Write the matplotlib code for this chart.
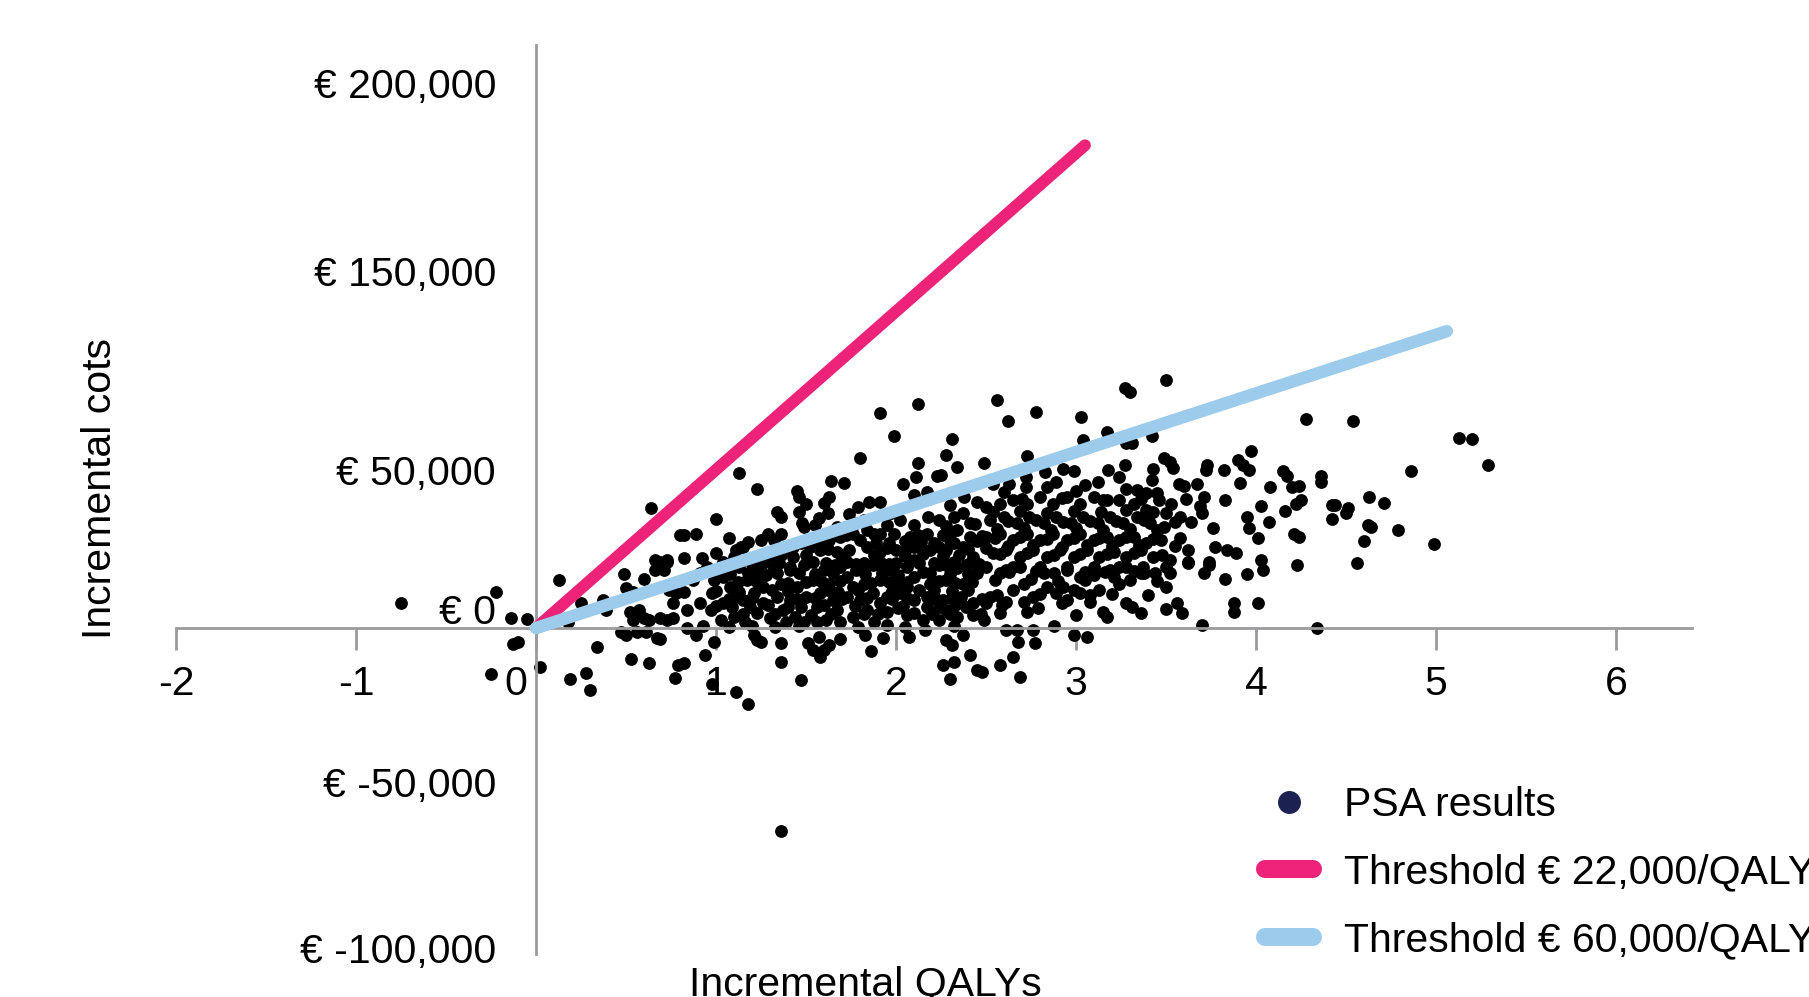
import matplotlib
matplotlib.use("Agg")
import matplotlib.pyplot as plt
import matplotlib.transforms as mtransforms
from matplotlib.lines import Line2D

plt.rcParams["font.family"] = ["Liberation Sans", "DejaVu Sans"]

# ── Data: PSA iterations (incremental QALYs, incremental costs in k€) ─────────
near_origin = [
    (0.64, 35.2), (0.80, 27.3), (0.66, 20.0), (0.73, 20.0), (-0.75, 7.5), (-0.22, 10.5),
    (-0.14, 2.9), (-0.05, 2.6), (-0.13, -4.7), (-0.10, -4.0), (-0.25, -13.5), (0.02, -11.6),
    (0.13, 14.1), (0.19, -15.1), (0.28, -13.1), (0.30, -18.2), (0.34, -5.7), (0.25, 7.5),
    (0.39, 5.3), (0.37, 8.2), (0.18, 1.9), (0.49, 15.9), (0.60, 14.4), (0.50, 11.7),
    (0.54, 10.7), (0.66, 17.1), (0.71, 17.1), (0.69, 19.5), (0.73, 19.5), (0.52, 4.8),
    (0.57, 5.3), (0.54, 2.4), (0.60, 2.9), (0.63, 2.4), (0.69, 2.9), (0.73, 2.4),
    (0.76, 2.9), (0.47, -1.1), (0.50, -2.1), (0.56, -1.1), (0.61, -1.1), (0.67, -3.0),
    (0.69, -3.3), (0.53, -9.2), (0.63, -10.2), (0.77, -14.8), (0.79, -10.9), (0.74, 11.2),
    (0.78, 10.2), (0.76, 7.3),
]
below_axis = [
    (0.84, -0.1), (0.89, -2.1), (0.99, -4.0), (0.94, -7.9), (0.82, -10.4), (0.98, -16.5),
    (1.11, -18.7), (1.18, -22.3), (1.23, -3.5), (1.25, -4.0), (1.21, -2.1), (1.36, -4.5),
    (1.36, -9.9), (1.47, -15.3), (1.51, -4.5), (1.54, -6.5), (1.58, -8.4), (1.60, -6.5),
    (1.63, -5.0), (1.57, -2.7), (1.69, -3.2), (1.83, -2.1), (1.86, -6.7), (1.93, -3.0),
    (2.07, -2.5), (2.16, -0.6), (1.88, 1.9), (2.28, -3.5), (2.31, -5.0), (2.41, -7.9),
    (2.37, -2.1), (2.26, -10.9), (2.32, -9.9), (2.30, -15.0), (2.45, -12.3), (1.36, -59.6),
]
core_low = [
    (1.03, 2.4), (1.10, 3.3), (1.16, 1.9), (1.23, 4.3), (1.30, 2.9), (1.39, 1.9),
    (1.44, 3.3), (1.49, 1.9), (1.56, 1.9), (1.61, 2.4), (1.69, 1.9), (1.76, 3.3),
    (1.95, 4.8), (2.01, 5.8), (2.10, 4.3), (2.15, 2.4), (2.24, 2.4), (2.34, 3.3),
    (2.43, 3.8), (0.84, 5.3), (0.91, 7.3), (0.98, 10.2), (0.82, 10.7), (0.87, 14.1),
    (1.04, 7.3), (1.15, 8.2), (1.26, 7.3), (1.34, 9.2), (1.41, 8.2), (1.50, 9.2),
    (1.58, 10.2), (1.65, 8.2), (1.73, 9.2), (1.80, 8.2), (1.87, 10.2), (1.95, 9.2),
    (2.02, 10.2), (2.10, 8.2), (2.17, 9.2), (2.26, 8.2), (2.36, 9.2), (2.43, 7.3),
    (1.08, 12.2), (1.17, 14.1), (1.26, 12.2), (1.36, 13.1), (1.45, 12.2), (1.54, 14.1),
    (1.63, 13.1), (1.73, 15.1), (1.82, 13.1), (1.91, 14.1), (2.00, 13.1), (2.10, 15.1),
    (2.19, 13.1), (2.28, 14.1), (2.37, 13.1), (2.45, 16.1), (1.02, 17.1), (1.13, 18.0),
    (1.23, 16.6), (1.32, 18.0), (1.41, 17.1), (1.50, 19.0), (1.60, 17.1), (1.69, 18.0),
    (1.78, 17.1), (1.87, 18.5), (1.97, 17.1), (2.06, 18.0), (2.15, 16.6), (2.24, 18.5),
    (2.34, 17.6), (2.41, 19.0), (0.91, 16.1), (0.99, 14.1), (1.11, 9.2), (1.19, 6.3),
    (1.37, 5.3), (1.47, 6.3), (1.67, 5.3), (1.84, 5.3), (1.91, 7.3), (2.17, 6.3),
    (2.28, 5.3), (2.39, 6.3), (1.34, 16.1), (1.76, 12.2), (2.06, 12.2), (2.21, 11.2),
    (1.56, 6.3), (1.21, 10.2), (1.04, 15.1), (0.97, 5.3),
]
upper_left = [
    (2.12, 66.0), (1.91, 63.3), (1.99, 56.4), (2.31, 55.5), (1.80, 49.9), (2.12, 48.6),
    (2.28, 50.9), (2.34, 47.4), (1.13, 45.5), (1.23, 40.9), (1.64, 43.3), (1.71, 42.8),
    (2.04, 42.3), (2.11, 44.3), (2.23, 44.7), (2.25, 45.0), (1.45, 40.4), (1.46, 38.4),
    (1.63, 38.6), (1.60, 36.8), (1.50, 36.5), (1.46, 34.2), (1.85, 37.0), (1.91, 37.0),
    (1.79, 35.7), (1.34, 34.2), (1.36, 32.7), (1.00, 32.0), (1.62, 33.9), (1.57, 32.5),
    (1.74, 33.5), (1.48, 31.0), (1.49, 29.8), (2.10, 39.1), (2.17, 40.1), (2.30, 36.2),
    (2.38, 38.6), (2.45, 37.1), (0.82, 27.3), (0.89, 27.6), (1.07, 26.6), (1.25, 25.9),
    (1.29, 27.6), (1.36, 27.8), (1.14, 23.9), (1.11, 23.0), (0.92, 20.5), (0.82, 20.5),
]
core_left = [
    (1.97, 33.7), (2.02, 31.7), (2.10, 30.3), (2.18, 32.7), (2.24, 31.7), (2.32, 32.7),
    (2.37, 33.7), (2.41, 30.8), (1.99, 27.8), (2.08, 26.8), (2.17, 27.8), (2.26, 27.3),
    (2.34, 28.8), (2.41, 26.8), (1.63, 25.9), (1.69, 26.8), (1.76, 27.8), (1.84, 28.8),
    (1.91, 27.8), (1.58, 23.0), (1.67, 22.4), (1.74, 23.0), (1.84, 23.9), (1.91, 22.4),
    (2.00, 23.0), (2.10, 23.9), (2.19, 23.0), (2.28, 23.0), (2.37, 23.9), (2.43, 21.0),
    (1.54, 19.5), (1.61, 19.0), (1.73, 19.5), (1.82, 19.0), (1.91, 19.5), (2.00, 19.0),
    (2.10, 20.0), (2.21, 19.0), (2.32, 19.5), (2.39, 18.5), (1.36, 21.5), (1.43, 21.0),
    (1.26, 19.0), (1.15, 23.9), (1.54, 24.9), (1.47, 24.9), (1.82, 31.7), (1.67, 29.8),
    (1.89, 24.9), (2.21, 24.9), (2.32, 24.9), (1.23, 21.0), (1.04, 19.5), (0.95, 18.0),
    (1.41, 18.0), (1.49, 18.5), (1.32, 17.5), (1.10, 21.0), (1.43, 23.9), (1.00, 22.0),
]
upper_right = [
    (3.50, 73.1), (3.27, 70.5), (3.30, 69.5), (2.56, 67.0), (2.78, 63.4), (2.62, 60.9),
    (3.03, 62.1), (3.17, 57.7), (3.04, 55.3), (3.42, 56.4), (3.28, 54.3), (3.31, 54.3),
    (2.73, 50.6), (2.49, 48.6), (3.97, 52.1), (3.49, 49.9), (3.52, 48.9), (3.54, 47.2),
    (3.27, 48.1), (2.93, 46.9), (2.99, 46.1), (3.18, 46.6), (3.43, 46.9), (3.42, 43.5),
    (3.73, 47.9), (3.72, 46.5), (3.82, 46.5), (3.90, 49.4), (3.93, 47.9), (3.96, 46.6),
    (2.83, 46.0), (2.72, 44.5), (3.57, 42.5), (3.60, 41.7), (3.67, 42.3), (3.91, 42.8),
    (4.08, 41.5), (3.24, 44.5), (3.05, 42.0), (2.89, 43.0), (2.72, 41.6), (2.63, 42.5),
    (2.54, 42.5), (4.03, 36.0), (4.07, 31.3), (3.83, 37.6), (3.71, 38.6), (3.61, 38.1),
    (3.53, 36.5), (3.69, 35.9), (3.70, 33.7), (3.95, 32.7), (3.76, 29.3), (3.96, 29.3),
    (4.01, 26.4), (3.77, 23.9), (3.84, 23.0), (3.89, 22.1), (3.62, 23.0), (3.62, 19.5),
    (3.74, 19.5), (4.03, 20.0), (3.58, 32.7), (3.64, 31.3), (3.50, 33.7), (3.46, 37.6),
    (3.34, 40.6), (3.28, 41.0), (3.39, 39.6), (2.84, 41.6), (3.12, 43.0),
]
core_right = [
    (2.50, 35.7), (2.58, 36.6), (2.65, 37.6), (2.73, 36.6), (2.80, 38.6), (2.87, 36.6),
    (2.95, 38.6), (3.02, 36.6), (3.10, 38.6), (3.17, 37.6), (3.24, 37.6), (3.32, 36.6),
    (3.39, 34.7), (2.52, 31.7), (2.60, 32.7), (2.67, 30.8), (2.74, 32.7), (2.82, 30.8),
    (2.89, 32.7), (2.97, 30.8), (3.04, 32.7), (3.12, 30.8), (3.19, 32.7), (3.26, 30.8),
    (3.34, 32.7), (3.41, 30.8), (3.49, 29.8), (2.50, 26.8), (2.58, 27.8), (2.65, 25.9),
    (2.73, 27.8), (2.80, 25.9), (2.87, 27.8), (2.95, 25.9), (3.02, 27.8), (3.10, 25.9),
    (3.17, 26.8), (3.24, 25.9), (3.32, 26.8), (3.39, 24.9), (3.47, 25.9), (2.54, 22.0),
    (2.61, 23.0), (2.69, 21.0), (2.76, 23.0), (2.84, 21.0), (2.91, 23.0), (2.99, 21.0),
    (3.06, 23.0), (3.13, 21.0), (3.21, 22.4), (3.28, 21.0), (3.36, 23.0), (3.43, 21.0),
    (3.52, 20.0), (2.50, 18.0), (2.65, 18.0), (2.80, 18.0), (2.95, 18.0), (3.10, 18.0),
    (3.24, 18.0), (3.37, 18.0),
]
# densest part of the cloud, where single dots merge
core_fill = [
    (1.55, 30.2), (1.78, 30.9), (1.95, 30.4), (2.28, 30.0), (2.44, 30.6),
    (1.18, 25.2), (1.32, 25.8), (1.60, 25.4), (1.80, 25.9), (1.96, 25.1), (2.05, 25.7),
    (2.14, 25.3), (2.30, 26.0), (2.45, 25.5),
    (1.30, 21.1), (1.50, 21.6), (1.70, 21.0), (1.88, 21.5), (2.05, 21.2), (2.15, 21.7),
    (2.26, 21.1), (2.35, 21.5),
    (1.08, 15.8), (1.18, 16.2), (1.28, 15.7), (1.46, 16.3), (1.55, 15.9), (1.65, 16.1),
    (1.83, 15.8), (1.92, 16.3), (2.01, 15.7), (2.19, 16.2), (2.30, 15.9), (2.40, 16.0),
    (1.00, 11.0), (1.13, 10.7), (1.31, 11.3), (1.40, 10.8), (1.62, 11.2), (1.68, 10.6),
    (1.79, 11.1), (1.98, 10.8), (2.13, 11.3), (2.31, 10.9), (2.40, 11.2),
    (1.00, 6.5), (1.09, 6.2), (1.29, 6.7), (1.40, 6.3), (1.60, 6.8), (1.77, 6.4),
    (2.04, 6.6), (2.24, 6.2), (2.33, 6.7),
    (0.93, 0.5), (1.07, 0.2), (1.20, 0.7), (1.33, 0.3), (1.46, 0.6), (1.79, 0.4),
    (1.95, 0.8), (2.05, 0.3), (2.32, 0.6),
    (2.54, 34.0), (2.69, 34.5), (2.84, 33.9), (2.99, 34.4), (3.14, 34.1), (3.28, 34.6),
    (3.43, 34.0),
    (2.56, 29.0), (2.71, 29.4), (2.86, 28.8), (3.00, 29.3), (3.15, 28.9), (3.30, 29.2),
    (3.45, 28.7),
    (2.62, 24.0), (2.76, 24.4), (2.92, 23.8), (3.06, 24.3), (3.20, 24.1), (3.35, 24.5),
    (3.55, 24.0),
    (2.55, 14.0), (2.75, 14.4), (2.90, 13.8), (3.05, 14.2), (3.30, 14.1), (3.45, 13.9),
    (2.60, 40.0), (3.00, 40.3), (3.45, 39.8),
]
core_fill_2 = [
    (1.72, 27.3), (1.88, 27.7), (2.12, 27.4), (2.30, 27.6), (2.48, 27.2),
    (1.40, 23.4), (1.52, 23.7), (1.62, 23.3), (1.95, 23.6), (2.06, 23.4), (2.24, 23.8),
    (2.40, 23.3), (2.50, 23.6),
    (1.20, 18.7), (1.35, 19.0), (1.66, 18.6), (1.78, 18.9), (1.96, 18.7), (2.13, 19.0),
    (2.28, 18.6), (2.46, 18.9),
    (1.12, 13.4), (1.22, 13.7), (1.40, 13.3), (1.50, 13.6), (1.59, 13.4), (1.69, 13.7),
    (1.86, 13.3), (1.96, 13.6), (2.06, 13.4), (2.24, 13.7), (2.33, 13.3), (2.42, 13.6),
    (1.07, 8.6), (1.20, 8.9), (1.45, 8.5), (1.55, 8.8), (1.70, 8.6), (1.84, 8.9),
    (1.98, 8.5), (2.06, 8.8), (2.22, 8.6), (2.31, 8.9), (2.48, 8.5),
    (1.15, 4.0), (1.33, 4.2), (1.53, 3.9), (1.64, 4.1), (1.82, 4.0), (1.90, 4.2),
    (2.06, 3.9), (2.20, 4.1), (2.30, 4.0), (2.47, 4.2),
    (2.70, 38.0), (2.92, 38.3), (3.15, 37.8), (3.36, 38.1),
    (2.62, 31.5), (2.78, 31.8), (2.93, 31.3), (3.08, 31.6), (3.22, 31.4), (3.38, 31.7),
    (3.55, 31.3),
    (2.55, 26.5), (2.69, 26.8), (2.84, 26.3), (2.99, 26.6), (3.13, 26.4), (3.28, 26.7),
    (3.43, 26.3), (3.58, 26.6),
    (2.58, 21.8), (2.73, 22.1), (2.88, 21.6), (3.02, 21.9), (3.17, 21.7), (3.32, 22.0),
    (3.48, 21.6),
    (2.63, 16.5), (2.78, 16.8), (2.88, 16.3), (3.05, 16.6), (3.16, 16.4), (3.32, 16.7),
    (3.44, 16.3),
    (2.56, 9.8), (2.80, 10.1), (3.08, 9.7), (3.20, 10.0), (3.40, 9.8),
]
far_right = [
    (4.28, 61.6), (4.54, 60.9), (5.13, 55.9), (5.20, 55.6), (5.29, 48.1), (4.86, 46.2),
    (4.15, 46.2), (4.17, 44.7), (4.20, 41.6), (4.24, 41.7), (4.36, 44.7), (4.36, 43.0),
    (4.25, 37.6), (4.22, 36.6), (4.16, 34.5), (4.42, 36.2), (4.44, 36.2), (4.51, 35.4),
    (4.50, 33.9), (4.42, 32.2), (4.63, 38.4), (4.71, 36.9), (4.62, 30.3), (4.64, 29.6),
    (4.79, 28.8), (4.21, 27.6), (4.24, 26.7), (4.60, 25.7), (4.99, 24.7), (4.23, 18.5),
    (4.56, 19.0), (4.34, -0.1),
]
lower_right = [
    (2.49, 2.4), (2.50, 7.3), (2.61, 7.7), (2.59, 6.8), (2.73, 4.8), (2.79, 5.8),
    (2.71, 7.7), (2.58, 4.3), (2.61, -0.6), (2.67, -0.6), (2.76, -0.6), (2.88, 0.7),
    (2.99, -2.1), (3.06, -2.5), (2.68, -4.0), (2.77, -4.5), (2.65, -8.4), (2.58, -10.9),
    (2.48, -12.8), (2.69, -14.3), (3.00, 3.8), (2.92, 7.3), (2.95, 8.2), (3.08, 7.7),
    (3.15, 4.8), (3.17, 3.3), (3.28, 7.3), (3.31, 6.3), (3.36, 4.5), (3.50, 5.5),
    (3.56, 7.5), (3.59, 4.3), (3.50, 12.2), (3.70, 0.9), (3.88, 7.3), (3.88, 4.8),
    (4.01, 7.3), (3.83, 14.3), (3.95, 15.9), (4.04, 17.1), (3.71, 16.1), (3.74, 18.5),
    (3.62, 19.0), (3.50, 18.0), (3.52, 16.1), (3.36, 16.1), (3.38, 16.1), (3.24, 13.1),
    (3.28, 18.0), (3.19, 17.1), (3.21, 15.1), (3.13, 11.2), (3.10, 15.6), (3.02, 10.2),
    (2.99, 11.2), (2.93, 12.2), (2.89, 10.2), (2.84, 12.2), (2.76, 9.2), (2.71, 13.1),
    (2.65, 11.2), (2.58, 16.1), (2.52, 9.2), (2.82, 16.1), (2.95, 17.1), (3.02, 15.1),
    (2.69, 18.0), (2.61, 17.1),
]

# threshold lines (end points as drawn)
thr22_qaly = [0, 3.05]
thr22_cost = [0, 142000]
thr60_qaly = [0, 5.06]
thr60_cost = [0, 87300]

x_ticks = [-2, -1, 0, 1, 2, 3, 4, 5, 6]
x_tick_labels = ["-2", "-1", "0", "1", "2", "3", "4", "5", "6"]
y_tick_pos = [160300, 105000, 46500, 5600, -45300, -94100]
y_tick_labels = ["€ 200,000", "€ 150,000", "€ 50,000", "€ 0", "€ -50,000", "€ -100,000"]

legend_labels = ["PSA results", "Threshold € 22,000/QALY", "Threshold € 60,000/QALY"]

# ── Style ─────────────────────────────────────────────────────────────────────
PINK = "#ec2379"
BLUE = "#9ccbec"
NAVY = "#1b2151"
AXIS_C = "#9b9b9d"
FS = 29.5

all_pts = (near_origin + below_axis + core_low + upper_left + core_left + upper_right
           + core_right + core_fill + core_fill_2 + far_right + lower_right)
qaly = [p[0] for p in all_pts]
cost = [p[1] * 1000 for p in all_pts]

fig = plt.figure(figsize=(18.09, 9.97), dpi=100)
ax = fig.add_axes([0.0973, 0.0435, 0.8380, 0.9118])

ax.scatter(qaly, cost, s=85, color="black", linewidths=0, zorder=2)
ax.plot(thr22_qaly, thr22_cost, color=PINK, lw=8.5, solid_capstyle="round", zorder=3)
ax.plot(thr60_qaly, thr60_cost, color=BLUE, lw=9, solid_capstyle="round", zorder=4)

ax.set_xlim(-2, 6.422)
ax.set_ylim(-95760, 171610)

for side in ["top", "right"]:
    ax.spines[side].set_visible(False)
for side in ["left", "bottom"]:
    ax.spines[side].set_position(("data", 0))
    ax.spines[side].set_color(AXIS_C)
    ax.spines[side].set_linewidth(2)

ax.set_xticks(x_ticks, x_tick_labels)
ax.set_yticks(y_tick_pos, y_tick_labels)
ax.tick_params(axis="x", direction="out", length=15.8, width=2, color=AXIS_C,
               pad=10.5, labelsize=FS)
ax.tick_params(axis="y", length=0, pad=28.8, labelsize=FS)

# the "0" label sits left of the y-axis in the original
shift = mtransforms.ScaledTranslation(-0.2, 0, fig.dpi_scale_trans)
for lbl in ax.get_xticklabels():
    if lbl.get_text() == "0":
        lbl.set_transform(lbl.get_transform() + shift)

ax.set_xlabel("Incremental QALYs", fontsize=FS, va="baseline")
ax.xaxis.set_label_coords(0.4545, -0.0455)
ax.set_ylabel("Incremental cots", fontsize=FS, va="center")
ax.yaxis.set_label_coords(-0.050, 0.512)

handles = [
    Line2D([], [], marker="o", ls="none", color=NAVY, markersize=15.5),
    Line2D([], [], color=PINK, lw=13, solid_capstyle="round"),
    Line2D([], [], color=BLUE, lw=13, solid_capstyle="round"),
]
fig.legend(handles, legend_labels, loc="upper left",
           bbox_to_anchor=(1265 / 1809, 1 - 786 / 997),
           frameon=False, borderpad=0, borderaxespad=0,
           handlelength=1.17, handletextpad=0.75, labelspacing=0.72,
           fontsize=FS)

fig.savefig("out.png", dpi=100)
